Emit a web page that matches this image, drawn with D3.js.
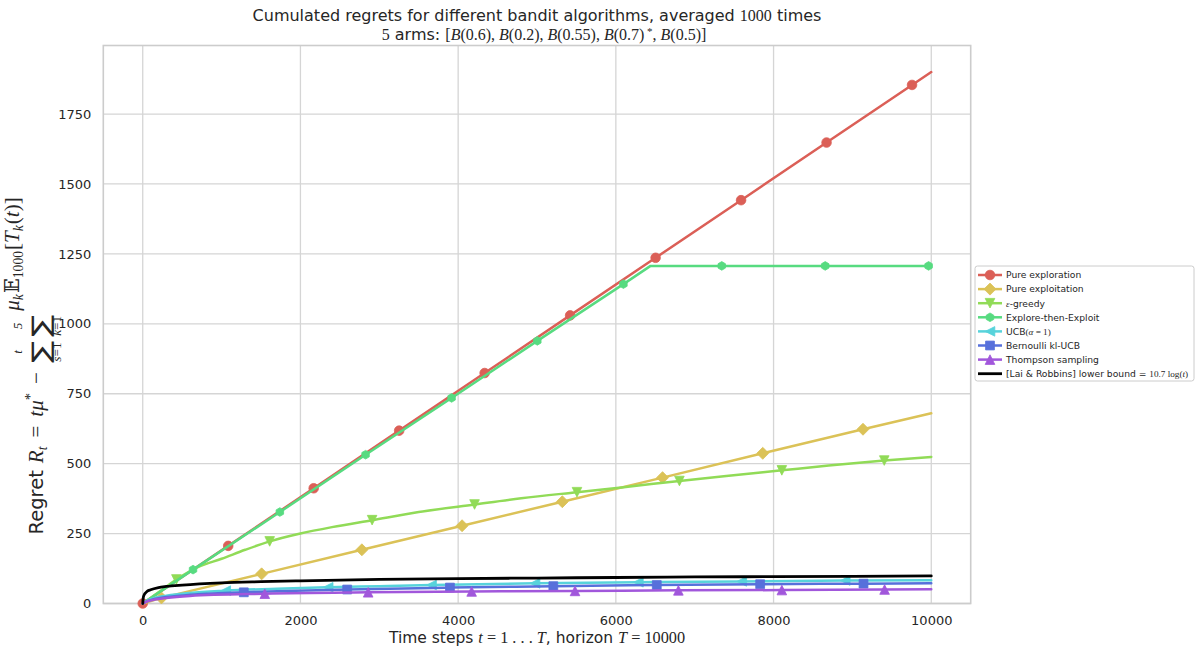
<!DOCTYPE html>
<html>
<head>
<meta charset="utf-8">
<script src="https://cdn.jsdelivr.net/npm/d3@7"></script>
<style>
  body { margin: 0; background: #fff; }
  text { fill: #262626; }
</style>
</head>
<body>
<svg id="chart" width="1197" height="651"></svg>
<script>
// ---- data: cumulated regret, [time step, regret] ----
const pureExploration = [[0,0],[1084,206],[2168,412],[3252,618],[4336,824],[5420,1030],[6504,1236],[7588,1442],[8672,1648],[9756,1854],[10000,1900]];
const pureExploitation = [[0,0],[237,20],[1508,106],[2779,192],[4050,278],[5321,364],[6592,450],[7863,537],[9134,623],[10000,680]];
const epsilonGreedy = [[0,0],[200,40],[427,86],[700,130],[1000,160],[1300,192],[1610,222],[2000,250],[2400,273],[2909,298],[3500,327],[4208,354],[4800,376],[5507,398],[6100,416],[6806,438],[7400,456],[8105,476],[8700,493],[9404,511],[10000,524]];
const exploreThenExploit = [[0,0],[638,121],[1739,327],[2826,532],[3917,735],[5004,939],[6096,1142],[6440,1207],[7343,1207],[8655,1207],[9966,1207],[10000,1207]];
const ucb = [[0,0],[50,10],[150,20],[300,28],[600,38],[1053,46],[1700,53],[2352,58],[3000,62],[3663,66],[4975,72],[6286,76],[7597,79],[8909,82],[10000,83]];
const klUcb = [[0,0],[50,8],[150,16],[300,23],[600,31],[1282,40],[2593,50],[3896,57],[5207,62],[6519,66],[7830,69],[9141,71],[10000,72]];
const thompson = [[0,0],[50,7],[150,14],[300,20],[600,27],[1548,35],[2859,40],[4171,43],[5482,45],[6793,47],[8105,48],[9408,50],[10000,51]];
const laiRobbins = [[1,0],[2,7],[3,12],[5,17],[10,25],[20,32],[30,36],[50,42],[100,49],[200,57],[300,61],[500,66],[1000,74],[1500,78],[2000,81],[3000,86],[4000,89],[5000,91],[6000,93],[7000,95],[8000,96],[9000,97],[10000,98.5]];

// indices of the points that carry a marker
const pureExplorationMarks = [0,1,2,3,4,5,6,7,8,9];
const pureExploitationMarks = [1,2,3,4,5,6,7,8];
const epsilonGreedyMarks = [2,6,9,11,13,15,17,19];
const exploreThenExploitMarks = [1,2,3,4,5,6,8,9,10];
const ucbMarks = [5,7,9,10,11,12,13];
const klUcbMarks = [5,6,7,8,9,10,11];
const thompsonMarks = [5,6,7,8,9,10,11];

const xTicks = [0, 2000, 4000, 6000, 8000, 10000];
const yTicks = [0, 250, 500, 750, 1000, 1250, 1500, 1750];

const SANS = "'DejaVu Sans', sans-serif";
const SERIF = "'Liberation Serif', 'DejaVu Serif', serif";

const series = [
  { name: [{t: "Pure exploration"}], color: "#db5f57", marker: "o", data: pureExploration, marks: pureExplorationMarks, smooth: false },
  { name: [{t: "Pure exploitation"}], color: "#dbc257", marker: "D", data: pureExploitation, marks: pureExploitationMarks, smooth: false },
  { name: [{t: "ε", m: "it"}, {t: "-greedy"}], color: "#91db57", marker: "v", data: epsilonGreedy, marks: epsilonGreedyMarks, smooth: true },
  { name: [{t: "Explore-then-Exploit"}], color: "#57db80", marker: "h", data: exploreThenExploit, marks: exploreThenExploitMarks, smooth: false },
  { name: [{t: "UCB"}, {t: "(", m: "rm"}, {t: "α", m: "it"}, {t: " = 1)", m: "rm"}], color: "#57d3db", marker: "<", data: ucb, marks: ucbMarks, smooth: true },
  { name: [{t: "Bernoulli kl-UCB"}], color: "#5770db", marker: "s", data: klUcb, marks: klUcbMarks, smooth: true },
  { name: [{t: "Thompson sampling"}], color: "#a157db", marker: "^", data: thompson, marks: thompsonMarks, smooth: true },
  { name: [{t: "[Lai & Robbins] lower bound = "}, {t: "10.7 log(", m: "rm"}, {t: "t", m: "it"}, {t: ")", m: "rm"}], color: "#000000", marker: null, data: laiRobbins, marks: [], smooth: true }
];

const svg = d3.select("#chart");
const box = { left: 103.3, right: 970.7, top: 45.5, bottom: 603.5 };

const x = d3.scaleLinear().domain([-500, 10500]).range([box.left, box.right]);
const y = d3.scaleLinear().domain([0, 1995]).range([box.bottom, box.top]);

// ---- mixed text runs (sans text + serif math) ----
function runs(textSel, parts, size) {
  let shift = 0;
  parts.forEach(p => {
    const ts = textSel.append("tspan").text(p.t);
    const s = (p.s || 1) * size;
    ts.attr("font-size", s);
    if (p.m === "it") ts.attr("font-family", SERIF).attr("font-style", "italic");
    else if (p.m === "rm") ts.attr("font-family", SERIF);
    else ts.attr("font-family", SANS);
    const target = p.dy || 0;
    if (target !== shift) { ts.attr("dy", target - shift); shift = target; }
  });
  if (shift !== 0) textSel.append("tspan").attr("dy", -shift).text("\u200b");
}

// ---- grid & frame ----
const grid = svg.append("g");
grid.selectAll(".gx").data(xTicks).join("line")
  .attr("x1", d => x(d)).attr("x2", d => x(d)).attr("y1", box.top).attr("y2", box.bottom)
  .attr("stroke", "#d5d5d5").attr("stroke-width", 1.3);
grid.selectAll(".gy").data(yTicks).join("line")
  .attr("x1", box.left).attr("x2", box.right).attr("y1", d => y(d)).attr("y2", d => y(d))
  .attr("stroke", "#d5d5d5").attr("stroke-width", 1.3);
svg.append("rect")
  .attr("x", box.left).attr("y", box.top)
  .attr("width", box.right - box.left).attr("height", box.bottom - box.top)
  .attr("fill", "none").attr("stroke", "#cccccc").attr("stroke-width", 1.6);

// ---- axes (labels only, no tick marks) ----
const xAxis = svg.append("g").attr("transform", `translate(0,${box.bottom})`)
  .call(d3.axisBottom(x).tickValues(xTicks).tickSize(0).tickPadding(12).tickFormat(d3.format("d")));
const yAxis = svg.append("g").attr("transform", `translate(${box.left},0)`)
  .call(d3.axisLeft(y).tickValues(yTicks).tickSize(0).tickPadding(12).tickFormat(d3.format("d")));
[xAxis, yAxis].forEach(a => {
  a.select(".domain").remove();
  a.selectAll("text").attr("font-family", SANS).attr("font-size", 13).attr("fill", "#262626");
});

// ---- markers ----
function markerPath(kind, r) {
  const p = d3.path();
  if (kind === "o") { p.arc(0, 0, r, 0, 2 * Math.PI); }
  else if (kind === "D") { const d = r * 1.25; p.moveTo(0, -d); p.lineTo(d, 0); p.lineTo(0, d); p.lineTo(-d, 0); p.closePath(); }
  else if (kind === "s") { p.rect(-r * 0.92, -r * 0.92, r * 1.84, r * 1.84); }
  else if (kind === "^") { p.moveTo(0, -r); p.lineTo(r, r); p.lineTo(-r, r); p.closePath(); }
  else if (kind === "v") { p.moveTo(0, r); p.lineTo(r, -r); p.lineTo(-r, -r); p.closePath(); }
  else if (kind === "<") { p.moveTo(-r, 0); p.lineTo(r, -r); p.lineTo(r, r); p.closePath(); }
  else if (kind === "h") {
    for (let i = 0; i < 6; i++) {
      const a = Math.PI / 2 + i * Math.PI / 3;
      const px = r * 0.9 * Math.cos(a), py = r * 0.9 * Math.sin(a);
      if (i === 0) p.moveTo(px, py); else p.lineTo(px, py);
    }
    p.closePath();
  }
  return p.toString();
}

// ---- lines ----
const plot = svg.append("g");
series.forEach(s => {
  const line = d3.line().x(d => x(d[0])).y(d => y(d[1]))
    .curve(s.smooth ? d3.curveMonotoneX : d3.curveLinear);
  plot.append("path").datum(s.data)
    .attr("d", line).attr("fill", "none")
    .attr("stroke", s.color).attr("stroke-width", s.marker ? 2.5 : 2.8)
    .attr("stroke-linejoin", "round").attr("stroke-linecap", "round");
  if (s.marker) {
    plot.selectAll(null).data(s.marks.map(i => s.data[i])).join("path")
      .attr("transform", d => `translate(${x(d[0])},${y(d[1])})`)
      .attr("d", markerPath(s.marker, 4.8))
      .attr("fill", s.color).attr("stroke", s.color).attr("stroke-width", 0.8);
  }
});

// ---- title ----
const cx = (box.left + box.right) / 2;
runs(svg.append("text").attr("x", cx).attr("y", 21).attr("text-anchor", "middle"), [
  {t: "Cumulated regrets for different bandit algorithms, averaged "},
  {t: "1000", m: "rm"},
  {t: " times"}
], 16);
runs(svg.append("text").attr("x", cx + 7).attr("y", 39.5).attr("text-anchor", "middle"), [
  {t: "5", m: "rm"}, {t: " arms: "},
  {t: "[", m: "rm"}, {t: "B", m: "it"}, {t: "(0.6), ", m: "rm"},
  {t: "B", m: "it"}, {t: "(0.2), ", m: "rm"},
  {t: "B", m: "it"}, {t: "(0.55), ", m: "rm"},
  {t: "B", m: "it"}, {t: "(0.7)", m: "rm"}, {t: " *", m: "rm", s: 0.68, dy: -4.5},
  {t: ", ", m: "rm"}, {t: "B", m: "it"}, {t: "(0.5)]", m: "rm"}
], 16);

// ---- x label ----
runs(svg.append("text").attr("x", cx).attr("y", 643).attr("text-anchor", "middle"), [
  {t: "Time steps "}, {t: "t", m: "it", s: 1.05}, {t: " = 1 . . . ", m: "rm", s: 1.05}, {t: "T", m: "it", s: 1.05},
  {t: ", horizon "}, {t: "T", m: "it", s: 1.05}, {t: " = 10000", m: "rm", s: 1.05}
], 15.5);

// ---- y label: laid out piece by piece from its start, then rotated ----
(function () {
  const fs = 19.5;
  const g = svg.append("g");
  let cur = 0;
  function piece(t, mode, opt = {}) {
    const el = g.append("text").attr("x", cur).attr("y", opt.y || 0).text(t)
      .attr("font-size", (opt.s || 1) * fs);
    if (mode === "it") el.attr("font-family", SERIF).attr("font-style", "italic");
    else if (mode === "rm") el.attr("font-family", SERIF);
    else el.attr("font-family", SANS);
    const w = el.node().getComputedTextLength();
    cur += w + (opt.gap || 0);
    return w;
  }
  function bigSum(upper, lower, base) {
    const sx = 1.35;
    const start = cur;
    const el = g.append("text").text("∑").attr("font-family", SANS)
      .attr("font-size", fs * 1.25);
    const w = el.node().getComputedTextLength() * sx;
    el.attr("transform", `translate(${start},${base + 6}) scale(${sx},1)`);
    const mid = start + w / 2;
    g.append("text").attr("x", mid).attr("y", base - 21).attr("text-anchor", "middle")
      .attr("font-family", SERIF).attr("font-style", "italic").attr("font-size", fs * 0.68).text(upper);
    const lo = g.append("text").attr("x", mid).attr("y", base + 18).attr("text-anchor", "middle")
      .attr("font-size", fs * 0.68);
    lower.forEach(p => lo.append("tspan").text(p.t)
      .attr("font-family", SERIF).attr("font-style", p.m === "it" ? "italic" : "normal"));
    cur += w + 4;
  }
  piece("Regret", "sans", {gap: 7});
  piece("R", "it", {s: 1.08});
  piece("t", "it", {s: 0.7, y: 4, gap: 9});
  piece("=", "rm", {s: 1.08, gap: 9});
  piece("tμ", "it", {s: 1.08});
  piece("*", "rm", {s: 0.75, y: -8, gap: 9});
  piece("−", "rm", {s: 1.08, gap: 9});
  bigSum("t", [{t: "s", m: "it"}, {t: "=1"}], 0);
  bigSum("5", [{t: "k", m: "it"}, {t: "=1"}], 0);
  // the summand sits raised, at the level of the upper limits
  const up = -24;
  piece("μ", "it", {s: 1.08, y: up});
  piece("k", "it", {s: 0.7, y: up + 4, gap: 1});
  piece("𝔼", "rm", {s: 1.0, y: up});
  piece("1000", "rm", {s: 0.7, y: up + 4, gap: 1});
  piece("[", "rm", {s: 1.08, y: up});
  piece("T", "it", {s: 1.08, y: up});
  piece("k", "it", {s: 0.7, y: up + 4, gap: 1});
  piece("(", "rm", {s: 1.08, y: up});
  piece("t", "it", {s: 1.08, y: up});
  piece(")]", "rm", {s: 1.08, y: up});
  g.attr("transform", "translate(42.5,534.5) rotate(-90)");
})();

// ---- legend ----
(function () {
  const lg = svg.append("g");
  const lx = 975, ly = 266, lw = 219, lh = 115;
  lg.append("rect").attr("x", lx).attr("y", ly).attr("width", lw).attr("height", lh)
    .attr("rx", 2.5).attr("fill", "#ffffff").attr("fill-opacity", 0.8)
    .attr("stroke", "#cccccc").attr("stroke-width", 1);
  series.forEach((s, i) => {
    const ry = 275 + i * 14.1;
    lg.append("line").attr("x1", 978).attr("x2", 1002).attr("y1", ry).attr("y2", ry)
      .attr("stroke", s.color).attr("stroke-width", s.marker ? 2.5 : 2.8);
    if (s.marker) {
      lg.append("path").attr("transform", `translate(990,${ry})`)
        .attr("d", markerPath(s.marker, 4.8)).attr("fill", s.color)
        .attr("stroke", s.color).attr("stroke-width", 0.8);
    }
    runs(lg.append("text").attr("x", 1006).attr("y", ry + 3.3), s.name, 9.2);
  });
})();
</script>
</body>
</html>
